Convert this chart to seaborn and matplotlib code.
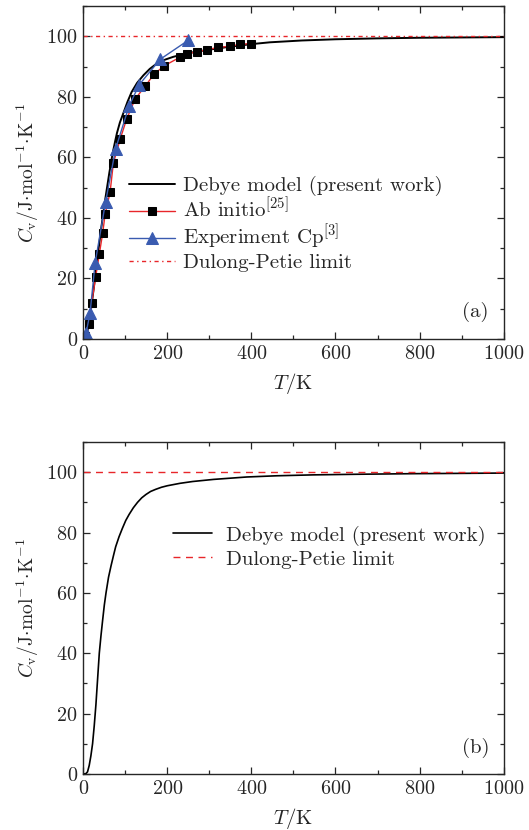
import matplotlib
matplotlib.use("Agg")
import matplotlib.pyplot as plt
import seaborn as sns
from matplotlib.ticker import MultipleLocator

# Debye model curve, panel (a)
debye_a_T = [0, 5, 9, 17, 25, 33, 42, 52, 62, 70, 76, 80, 87, 95, 105, 115, 128, 143, 158, 175,
             195, 214, 245, 278, 320, 357, 400, 444, 520, 600, 700, 800, 900, 1000]
debye_a_Cv = [0, 0.5, 1.9, 8.5, 17.0, 26.0, 36.0, 46.0, 55.0, 61.5, 65.5, 68.0, 71.5, 74.5, 78.3,
              81.6, 84.6, 87.1, 89.2, 91.0, 92.3, 93.2, 94.3, 95.1, 96.0, 96.7, 97.4, 98.0, 98.6,
              99.0, 99.3, 99.5, 99.6, 99.7]

# Debye model curve, panel (b)
debye_b_T = [0, 6, 10, 14, 18, 22, 26, 30, 34, 38, 42, 46, 50, 54, 60, 66, 72, 77, 85, 93, 101, 109,
             119, 129, 139, 149, 160, 172, 186, 200, 230, 260, 310, 389, 460, 547, 650, 785, 900, 1000]
debye_b_Cv = [0, 0.1, 0.7, 2.8, 6.0, 10.0, 16.0, 23.0, 31.5, 40.0, 45.8, 51.0, 56.0, 60.0, 65.2, 69.0,
              72.5, 75.3, 78.6, 81.4, 84.0, 86.0, 88.2, 90.0, 91.5, 92.6, 93.6, 94.3, 95.0, 95.5, 96.3,
              96.9, 97.6, 98.4, 98.8, 99.1, 99.3, 99.5, 99.6, 99.7]

# Ab initio [25]
abinit_T = [5, 14, 20, 29.5, 38, 46, 52, 63.6, 71.4, 87.4, 103, 123, 147, 168, 192, 229,
            246, 270, 295, 321, 348, 373, 398]
abinit_Cv = [1.0, 5.0, 11.8, 20.6, 28.0, 34.9, 41.3, 48.4, 58.0, 65.9, 72.6, 79.2, 83.5, 87.4,
             90.2, 93.0, 94.3, 94.8, 95.6, 96.3, 96.7, 97.3, 97.6]

# Experiment Cp [3]
exp_T = [6.4, 16, 28, 53, 77, 109, 133, 183, 250]
exp_Cv = [1.9, 8.5, 25.0, 45.3, 62.9, 77.0, 84.0, 92.4, 98.7]

dulong_limit = 100

sns.set_style("ticks")
plt.rcParams["font.family"] = "serif"
plt.rcParams["font.serif"] = ["cmr10", "DejaVu Serif"]
plt.rcParams["mathtext.fontset"] = "cm"
plt.rcParams["axes.formatter.use_mathtext"] = True

red = "#e8262a"
blue = "#3a5bb0"

fig = plt.figure(figsize=(5.29, 8.3), dpi=100)
ax1 = fig.add_axes([0.1575, 0.5916, 0.7945, 0.4012])
ax2 = fig.add_axes([0.1575, 0.0675, 0.7945, 0.4000])

ylabel = r"$C_{\rm v}/{\rm J\!\cdot\!mol^{-1}\!\cdot\!K^{-1}}$"

# panel (a)
sns.lineplot(x=debye_a_T, y=debye_a_Cv, ax=ax1, color="black", lw=1.4,
             label="Debye model (present work)")
sns.lineplot(x=abinit_T, y=abinit_Cv, ax=ax1, color=red, lw=1.0, marker="s", markersize=6,
             markerfacecolor="black", markeredgecolor="black", label=r"Ab initio$^{[25]}$")
sns.lineplot(x=exp_T, y=exp_Cv, ax=ax1, color=blue, lw=1.0, marker="^", markersize=8.5,
             markerfacecolor=blue, markeredgecolor=blue, label=r"Experiment Cp$^{[3]}$")
ax1.axhline(dulong_limit, color=red, lw=1.0, dashes=(3, 2.5, 1, 2.5), label="Dulong-Petie limit")
ax1.legend(loc="upper left", bbox_to_anchor=(0.109, 0.49), frameon=False, fontsize=15,
           handlelength=2.2, handletextpad=0.4, labelspacing=0.05, borderaxespad=0, borderpad=0)
ax1.text(0.933, 0.081, "(a)", transform=ax1.transAxes, ha="center", va="center", fontsize=15)

# panel (b)
sns.lineplot(x=debye_b_T, y=debye_b_Cv, ax=ax2, color="black", lw=1.2,
             label="Debye model (present work)")
ax2.axhline(dulong_limit, color=red, lw=1.0, dashes=(5, 4), label="Dulong-Petie limit")
ax2.legend(loc="upper left", bbox_to_anchor=(0.213, 0.748), frameon=False, fontsize=15,
           handlelength=1.9, handletextpad=0.67, labelspacing=0.2, borderaxespad=0, borderpad=0)
ax2.text(0.934, 0.078, "(b)", transform=ax2.transAxes, ha="center", va="center", fontsize=15)

for ax in (ax1, ax2):
    ax.set_xlim(0, 1000)
    ax.set_ylim(0, 110)
    ax.xaxis.set_major_locator(MultipleLocator(200))
    ax.xaxis.set_minor_locator(MultipleLocator(100))
    ax.yaxis.set_major_locator(MultipleLocator(20))
    ax.yaxis.set_minor_locator(MultipleLocator(10))
    ax.tick_params(which="both", direction="in", top=True, right=True, labelsize=14.5, width=0.9)
    ax.tick_params(which="major", length=5, pad=4)
    ax.tick_params(which="minor", length=3)
    for s in ax.spines.values():
        s.set_linewidth(1.0)
        s.set_visible(True)
    ax.set_xlabel(r"$T/{\rm K}$", fontsize=15, labelpad=6)
    ax.set_ylabel(ylabel, fontsize=14, labelpad=4)

fig.savefig("out.png", dpi=100)
